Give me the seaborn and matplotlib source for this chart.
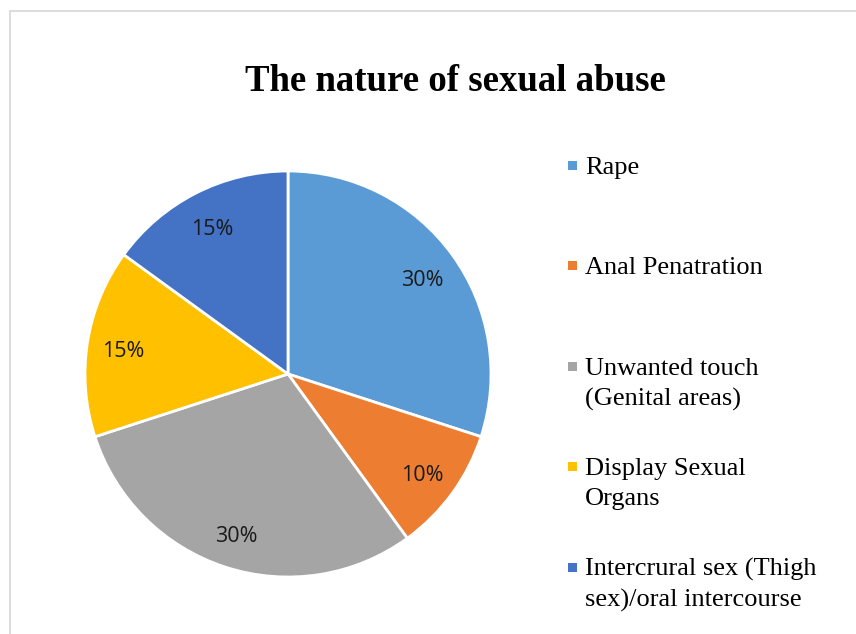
import matplotlib
matplotlib.use("Agg")
import matplotlib.pyplot as plt
from matplotlib.patches import Rectangle
import matplotlib.transforms as mtransforms
import seaborn as sns

# Data
categories = [
    "Rape",
    "Anal Penatration",
    "Unwanted touch\n(Genital areas)",
    "Display Sexual\nOrgans",
    "Intercrural sex (Thigh\nsex)/oral intercourse",
]
shares = [30, 10, 30, 15, 15]
colors = ["#5B9BD5", "#ED7D31", "#A5A5A5", "#FFC000", "#4472C4"]
title = "The nature of sexual abuse"

sns.set_theme(style="white", palette=colors)

W, H = 856, 634
fig = plt.figure(figsize=(W / 100, H / 100), dpi=100)
fig.patch.set_facecolor("white")

# Pie area: centre (288, 374) px, radius 203 px
cx, cy, r = 288, 374, 203
ax = fig.add_axes([(cx - r) / W, (H - cy - r) / H, 2 * r / W, 2 * r / H])
wedges, texts, autotexts = ax.pie(
    shares,
    colors=sns.color_palette(colors),
    startangle=90,
    counterclock=False,
    autopct="%1.0f%%",
    pctdistance=0.82,
    wedgeprops=dict(edgecolor="white", linewidth=2),
    textprops=dict(family="Open Sans", fontsize=15.5, color="#1a1a1a"),
)
for w in wedges:
    w.set_clip_on(False)
# nudge percentage labels slightly downward
shift = mtransforms.ScaledTranslation(0, -4 / 100, fig.dpi_scale_trans)
for t in autotexts:
    t.set_transform(t.get_transform() + shift)
ax.set_xlim(-1, 1)
ax.set_ylim(-1, 1)
ax.set_aspect("auto")
ax.axis("off")

# Outer frame
fig.add_artist(Rectangle((9.5 / W, -0.1), 1.2, (H - 11) / H + 0.1,
                         transform=fig.transFigure, fill=False,
                         edgecolor="#D9D9D9", linewidth=1.3))

# Title
fig.text(455 / W, 1 - 91 / H, title, ha="center", va="baseline",
         family="Liberation Serif", weight="bold", fontsize=26.5, color="black")

# Legend entries: square marker beside the first line, wrapped lines below
first_baselines = [174, 274, 375, 475, 576]
line_step = 30.5
for label, col, yb in zip(categories, colors, first_baselines):
    fig.add_artist(Rectangle((567.5 / W, 1 - (yb - 4) / H), 9 / W, 9 / H,
                             transform=fig.transFigure, facecolor=col,
                             edgecolor="none"))
    for i, line in enumerate(label.split("\n")):
        fig.text(585 / W, 1 - (yb + i * line_step) / H, line, ha="left",
                 va="baseline", family="Liberation Serif", fontsize=19,
                 color="black")

fig.savefig("out.png", dpi=100, facecolor="white")
